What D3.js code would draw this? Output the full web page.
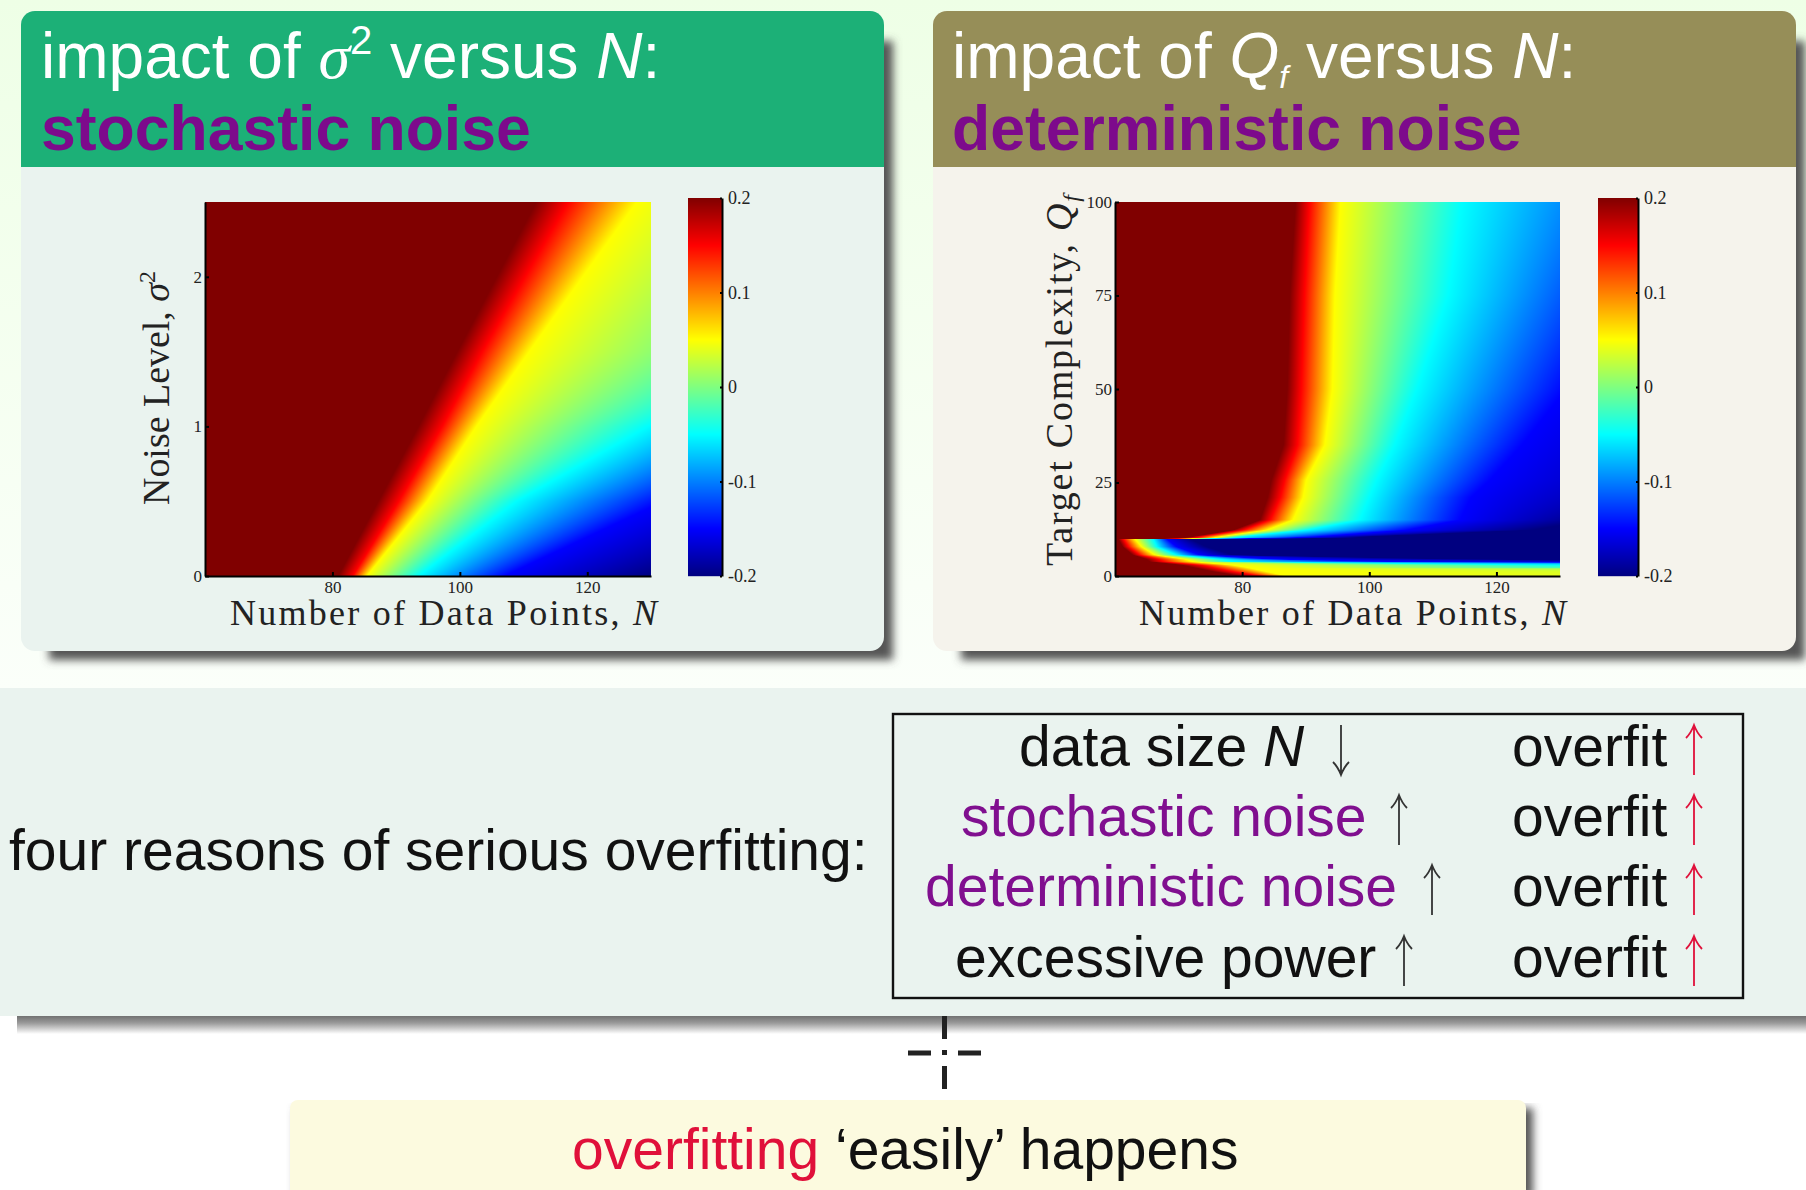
<!DOCTYPE html>
<html>
<head>
<meta charset="utf-8">
<script src="https://cdn.jsdelivr.net/npm/d3@7"></script>
<style>
  html, body { margin: 0; padding: 0; background: #fff; }
  svg { display: block; filter: blur(0.6px); }
  text { font-family: "Liberation Sans", sans-serif; }
  .fig text { font-family: "Liberation Serif", serif; fill: #222; }
  .axis path, .axis line { stroke: #000; }
  .axis path { stroke-width: 2; }
  .axis line { stroke-width: 2; }
</style>
</head>
<body>
<script>
// contour levels of the colour field, and where each row of the plot crosses them (values of N)
const levels = [0.2, 0.15, 0.05, -0.05, -0.15, -0.2]

const sigmaRows = [0, 0.5, 1, 1.5, 2, 2.5]
const sigmaCross = [
  [80.9, 83.2, 85.4, 93.5, 107, 130],
  [87.2, 90.4, 94.9, 108.9, 132, 165],
  [93.5, 97.2, 102.6, 129.5, 160, 200],
  [99.6, 103.5, 110.9, 155, 190, 230],
  [105.8, 110.2, 119.3, 168, 205, 245],
  [112, 117, 127.8, 178, 220, 260],
]

const qRows = [0, 1.15, 2.2, 2.9, 3.8, 4.5, 5.6, 7.8, 9.95, 10.05, 10.5, 12.3, 15, 21, 25.7, 35, 50, 75, 100]
const qCross = [
  [79.7, 82.8, 87, 500, 900, 1000],
  [75.5, 78.6, 83.9, 400, 800, 900],
  [72.5, 75.5, 81, 150, 400, 600],
  [70.5, 73.5, 78.5, 130, 250, 300],
  [65.5, 67.6, 72.3, 78.6, 105, 170],
  [64.9, 66.8, 71, 76.5, 85, 115],
  [62.8, 63.9, 66.3, 69.7, 73.4, 78.6],
  [61.2, 62.1, 64.2, 66.6, 69.7, 74.4],
  [60.5, 61.3, 63.1, 66, 68.1, 71.8],
  [70, 72.5, 75, 78, 85, 97],
  [72, 73.4, 76.5, 79.7, 91.7, 99.6],
  [78.6, 80.2, 83.9, 90.2, 105.9, 125.8],
  [82.8, 84.4, 88, 98.5, 114.3, 135],
  [84, 86, 89.6, 100, 116, 148],
  [84.6, 86.7, 90.1, 101.2, 119, 155],
  [86.5, 88.7, 93, 104, 124, 160],
  [87.1, 89.3, 94.2, 107.5, 131, 165],
  [87.5, 89.8, 94.6, 112.4, 140, 170],
  [88.4, 90.6, 95.5, 114.6, 150, 175],
]

const nTicks = [80, 100, 120]
const sigmaTicks = [0, 1, 2]
const qTicks = [0, 25, 50, 75, 100]
const barTicks = [0.2, 0.1, 0, -0.1, -0.2]
const barTickLabels = ['0.2', '0.1', '0', '-0.1', '-0.2']

const reasons = [
  { label: 'data size ', color: '#111', italic: 'N', arrow: 'down' },
  { label: 'stochastic noise', color: '#800f8f', arrow: 'up' },
  { label: 'deterministic noise', color: '#800f8f', arrow: 'up' },
  { label: 'excessive power', color: '#111', arrow: 'up' },
]

const W = 1806, H = 1190
const svg = d3.select('body').append('svg').attr('width', W).attr('height', H)
const defs = svg.append('defs')

defs.append('filter').attr('id', 'soft').attr('x', '-5%').attr('y', '-5%').attr('width', '110%').attr('height', '110%')
  .append('feGaussianBlur').attr('stdDeviation', 4)

const pageGrad = defs.append('linearGradient').attr('id', 'page').attr('x1', 0).attr('x2', 0).attr('y1', 0).attr('y2', 1)
pageGrad.append('stop').attr('offset', 0).attr('stop-color', '#eeffe6')
pageGrad.append('stop').attr('offset', 1).attr('stop-color', '#fbfffa')
svg.append('rect').attr('width', W).attr('height', 690).attr('fill', 'url(#page)')

const bandShadow = defs.append('linearGradient').attr('id', 'bandShadow').attr('x1', 0).attr('x2', 0).attr('y1', 0).attr('y2', 1)
bandShadow.append('stop').attr('offset', 0).attr('stop-color', '#666')
bandShadow.append('stop').attr('offset', 0.45).attr('stop-color', '#9a9a9a')
bandShadow.append('stop').attr('offset', 1).attr('stop-color', '#fff')

// jet, the same stops matlab uses
const jet = d3.scaleLinear()
  .domain([-0.2, -0.15, -0.05, 0.05, 0.15, 0.2])
  .range(['#000080', '#0000ff', '#00ffff', '#ffff00', '#ff0000', '#800000'])
  .clamp(true)

const renderCard = (x0, y0, w, h, headH, headColor, bodyColor) => {
  svg.append('path')
    .attr('d', `M${x0 + 28},${y0 + 30}H${x0 + w + 9}V${y0 + h + 9}H${x0 + 28}Z`)
    .attr('fill', '#555').attr('filter', 'url(#soft)')
  svg.append('rect').attr('x', x0).attr('y', y0).attr('width', w).attr('height', h).attr('rx', 14)
    .attr('fill', bodyColor)
  svg.append('path')
    .attr('d', `M${x0},${y0 + headH}V${y0 + 14}a14,14 0 0 1 14,-14H${x0 + w - 14}a14,14 0 0 1 14,14V${y0 + headH}Z`)
    .attr('fill', headColor)
}

const renderHeat = (g, x, y, rows, cross) => {
  // one scale per level: row value -> N where the field crosses that level
  const curves = levels.map((_, i) => d3.scaleLinear().domain(rows).range(cross.map(r => r[i])))
  const [x0, x1] = x.range(), [y1, y0] = y.range()
  const canvas = document.createElement('canvas')
  canvas.width = x1 - x0
  canvas.height = y1 - y0
  const ctx = canvas.getContext('2d')
  d3.range(y0, y1).forEach(py => {
    const v = y.invert(py + 0.5)
    const rowScale = d3.scaleLinear().domain(curves.map(c => c(v))).range(levels).clamp(true)
    d3.range(x0, x1).forEach(px => {
      ctx.fillStyle = jet(rowScale(x.invert(px + 0.5)))
      ctx.fillRect(px - x0, py - y0, 1, 1)
    })
  })
  g.append('image')
    .attr('x', x0).attr('y', y0).attr('width', x1 - x0).attr('height', y1 - y0)
    .attr('href', canvas.toDataURL())
}

const renderBar = (g, bx0, bx1, by0, by1) => {
  const yBar = d3.scaleLinear().domain([-0.2, 0.2]).range([by1, by0])
  d3.range(by0, by1).forEach(py => {
    g.append('rect').attr('x', bx0).attr('y', py).attr('width', bx1 - bx0).attr('height', 1.2)
      .attr('fill', jet(yBar.invert(py + 0.5)))
  })
  const ax = g.append('g').attr('class', 'axis').attr('transform', `translate(${bx1},0)`)
    .call(d3.axisRight(yBar).tickValues(barTicks).tickSizeInner(-2).tickSizeOuter(0)
      .tickFormat((d, i) => barTickLabels[i]).tickPadding(6))
  ax.selectAll('text').attr('font-size', 18).attr('fill', '#333')
}

const renderPlot = opts => {
  const g = svg.append('g').attr('class', 'fig')
  const x = d3.scaleLinear().domain([60, 130]).range(opts.xRange)
  const y = d3.scaleLinear().domain(opts.yDomain).range([576, 202])
  renderHeat(g, x, y, opts.rows, opts.cross)

  const bottom = g.append('g').attr('class', 'axis').attr('transform', 'translate(0,576)')
    .call(d3.axisBottom(x).tickValues(nTicks).tickSizeInner(-4).tickSizeOuter(0).tickPadding(5))
  bottom.selectAll('text').attr('font-size', 17)
  const left = g.append('g').attr('class', 'axis').attr('transform', `translate(${opts.xRange[0]},0)`)
    .call(d3.axisLeft(y).tickValues(opts.yTicks).tickSizeInner(-4).tickSizeOuter(0).tickPadding(3).tickFormat(d3.format('d')))
  left.selectAll('text').attr('font-size', 17)

  g.append('text').attr('x', opts.xRange[1] + 6).attr('y', 625).attr('text-anchor', 'end')
    .attr('font-size', 36).attr('textLength', opts.xLabelLen)
    .call(t => t.append('tspan').text('Number of Data Points, '))
    .call(t => t.append('tspan').attr('font-style', 'italic').text('N'))

  const yl = g.append('text').attr('transform', `translate(${opts.yLabelX},${opts.yLabelY}) rotate(-90)`)
    .attr('font-size', 38).attr('textLength', opts.yLabelLen)
  opts.yLabel(yl)

  renderBar(g, opts.barX[0], opts.barX[1], 198, 576)
}

const renderHeader = (x, head, bold) => {
  const t = svg.append('text').attr('x', x).attr('y', 78).attr('font-size', 64).attr('fill', '#fff')
  head(t)
  svg.append('text').attr('x', x).attr('y', 150).attr('font-size', 62.5).attr('font-weight', 'bold')
    .attr('fill', '#7d0a8c').text(bold)
}

renderCard(21, 11, 863, 640, 156, '#1cb077', '#eaf3ef')
renderCard(933, 11, 863, 640, 156, '#968e58', '#f5f3ec')
renderHeader(41, t => t
  .call(s => s.append('tspan').text('impact of '))
  .call(s => s.append('tspan').attr('font-family', 'Liberation Serif').attr('font-style', 'italic').text('σ'))
  .call(s => s.append('tspan').attr('font-size', 40).attr('dy', -24).text('2'))
  .call(s => s.append('tspan').attr('dy', 24).text(' versus '))
  .call(s => s.append('tspan').attr('font-style', 'italic').text('N'))
  .call(s => s.append('tspan').text(':')), 'stochastic noise')
renderHeader(952, t => t
  .call(s => s.append('tspan').text('impact of '))
  .call(s => s.append('tspan').attr('font-style', 'italic').text('Q'))
  .call(s => s.append('tspan').attr('font-style', 'italic').attr('font-size', 32).attr('dy', 10).text('f'))
  .call(s => s.append('tspan').attr('dy', -10).text(' versus '))
  .call(s => s.append('tspan').attr('font-style', 'italic').text('N'))
  .call(s => s.append('tspan').text(':')), 'deterministic noise')

renderPlot({
  xRange: [205, 651], yDomain: [0, 2.5], yTicks: sigmaTicks,
  rows: sigmaRows, cross: sigmaCross, barX: [688, 722],
  xLabelLen: 427, yLabelX: 169, yLabelY: 505, yLabelLen: 234,
  yLabel: t => t
    .call(s => s.append('tspan').text('Noise Level, '))
    .call(s => s.append('tspan').attr('font-style', 'italic').text('σ'))
    .call(s => s.append('tspan').attr('font-size', 24).attr('dy', -14).text('2')),
})
renderPlot({
  xRange: [1115, 1560], yDomain: [0, 100], yTicks: qTicks,
  rows: qRows, cross: qCross, barX: [1598, 1638],
  xLabelLen: 427, yLabelX: 1072, yLabelY: 566, yLabelLen: 371,
  yLabel: t => t
    .call(s => s.append('tspan').text('Target Complexity, '))
    .call(s => s.append('tspan').attr('font-style', 'italic').text('Q'))
    .call(s => s.append('tspan').attr('font-style', 'italic').attr('font-size', 24).attr('dy', 7).text('f')),
})

// lower band
svg.append('rect').attr('x', 17).attr('y', 1014).attr('width', W).attr('height', 20).attr('fill', 'url(#bandShadow)')
svg.append('rect').attr('x', 0).attr('y', 688).attr('width', W).attr('height', 328).attr('fill', '#eaf3ef')
svg.append('rect').attr('x', 893).attr('y', 714).attr('width', 850).attr('height', 284)
  .attr('fill', 'none').attr('stroke', '#111').attr('stroke-width', 2.4)

svg.append('text').attr('x', 9).attr('y', 870).attr('font-size', 57).attr('fill', '#111')
  .text('four reasons of serious overfitting:')

const arrowPath = (x, yTop, yBot, up) => up
  ? `M${x},${yBot}V${yTop}M${x - 8},${yTop + 13}Q${x - 3},${yTop + 8} ${x},${yTop}Q${x + 3},${yTop + 8} ${x + 8},${yTop + 13}`
  : `M${x},${yTop}V${yBot}M${x - 8},${yBot - 13}Q${x - 3},${yBot - 8} ${x},${yBot}Q${x + 3},${yBot - 8} ${x + 8},${yBot - 13}`

const rowBase = [766, 836, 906, 977]
const rowTextLeft = [1019, 961, 925, 955]
const rowArrowX = [1341, 1399, 1432, 1404]

reasons.forEach((r, i) => {
  const t = svg.append('text').attr('x', rowTextLeft[i]).attr('y', rowBase[i]).attr('font-size', 57).attr('fill', r.color)
  t.append('tspan').text(r.label)
  if (r.italic) t.append('tspan').attr('font-style', 'italic').text(r.italic)
  svg.append('path').attr('d', arrowPath(rowArrowX[i], rowBase[i] - 41, rowBase[i] + 9, r.arrow === 'up'))
    .attr('fill', 'none').attr('stroke', '#333').attr('stroke-width', 1.8)
  svg.append('text').attr('x', 1512).attr('y', rowBase[i]).attr('font-size', 57).attr('fill', '#111').text('overfit')
  svg.append('path').attr('d', arrowPath(1694, rowBase[i] - 41, rowBase[i] + 9, true))
    .attr('fill', 'none').attr('stroke', '#e0103a').attr('stroke-width', 1.8)
})

// implication sign between band and the conclusion
svg.append('path').attr('d', 'M944.5,1016V1039M944.5,1066V1089M944.5,1050V1055').attr('stroke', '#222').attr('stroke-width', 5)
svg.append('path').attr('d', 'M908,1053H931M958,1053H981').attr('stroke', '#222').attr('stroke-width', 5)

// conclusion box
svg.append('rect').attr('x', 296).attr('y', 1108).attr('width', 1237).attr('height', 90)
  .attr('fill', '#555').attr('filter', 'url(#soft)')
svg.append('rect').attr('x', 290).attr('y', 1100).attr('width', 1236).attr('height', 100).attr('rx', 8).attr('fill', '#fcfadf')
svg.append('text').attr('x', 572).attr('y', 1169).attr('font-size', 57)
  .call(t => t.append('tspan').attr('fill', '#e0103a').text('overfitting'))
  .call(t => t.append('tspan').attr('fill', '#111').text(' ‘easily’ happens'))
</script>
</body>
</html>
